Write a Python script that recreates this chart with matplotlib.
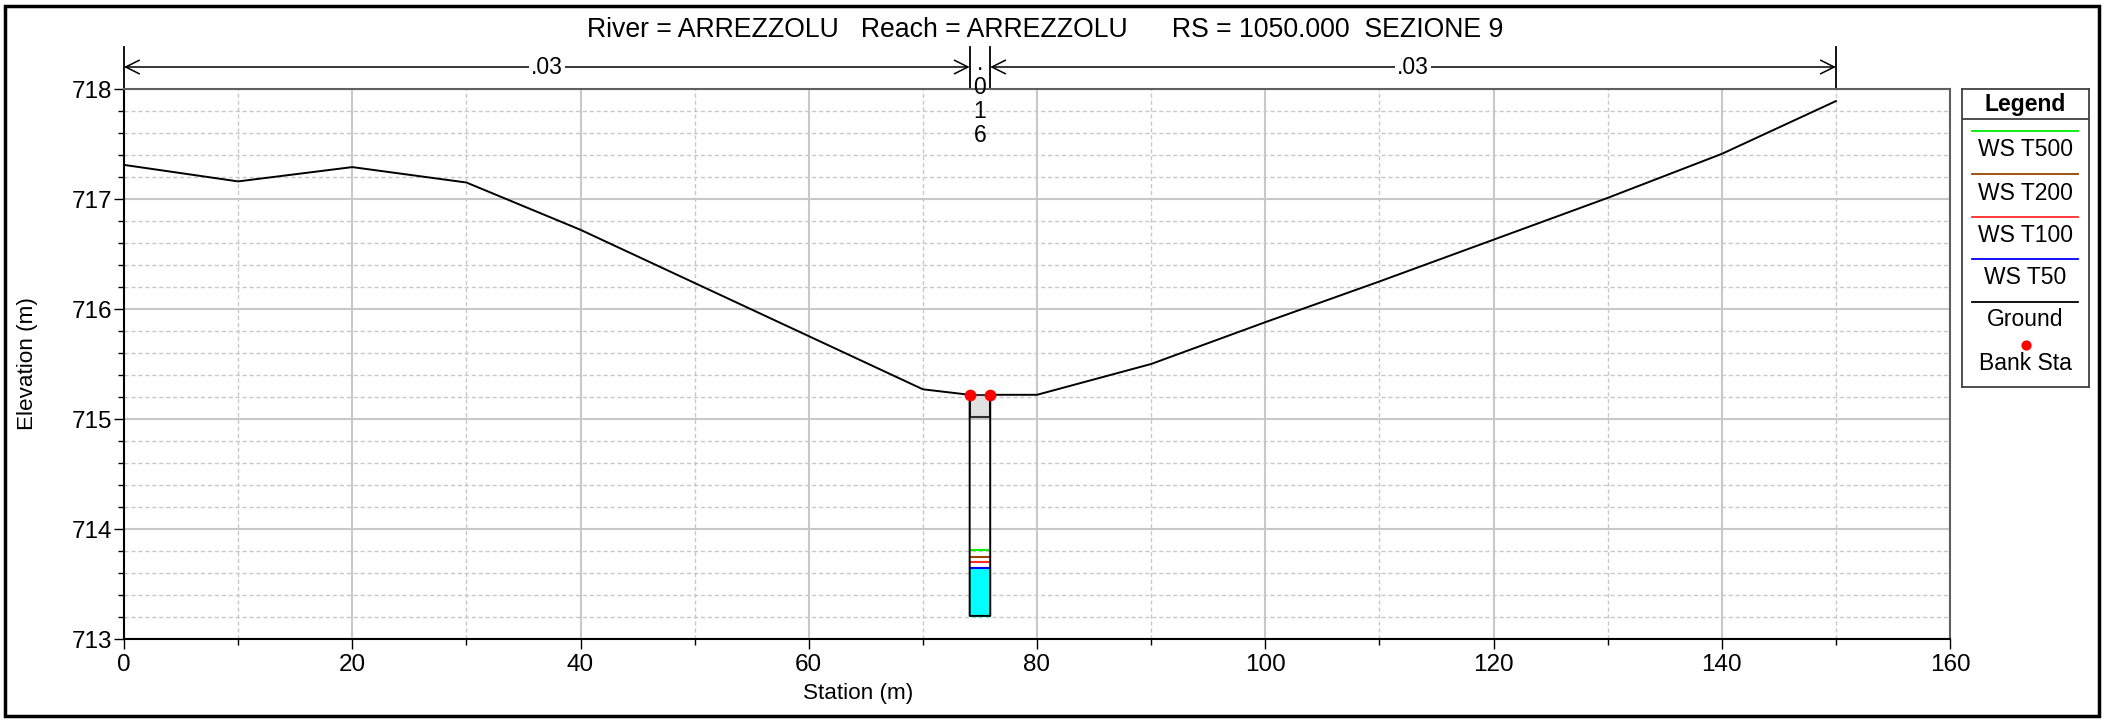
import matplotlib
matplotlib.use('Agg')
import matplotlib.pyplot as plt
import matplotlib.transforms as mtransforms
from matplotlib.patches import Rectangle
from matplotlib.ticker import MultipleLocator

plt.rcParams['font.family'] = ['Liberation Sans', 'DejaVu Sans']

# ------------------------------- Data ------------------------------- #
# ground profile (station m, elevation m)
station = [0, 10, 20, 30, 40, 70, 74.1, 74.1, 75.9, 75.9, 80, 90, 100, 110, 120, 130, 140, 150]
elevation = [717.31, 717.16, 717.29, 717.15, 716.72, 715.27, 715.22, 713.21, 713.21, 715.22,
             715.22, 715.50, 715.88, 716.25, 716.63, 717.01, 717.41, 717.89]

bank_sta = [74.1, 75.9]
bank_elev = [715.22, 715.22]
lid_low = 715.02
channel_bottom = 713.21

ws_names = ['WS T500', 'WS T200', 'WS T100', 'WS T50']
ws_elev = [713.81, 713.745, 713.70, 713.65]
ws_colors = ['#00ee00', '#994400', '#ff2a2a', '#0000ff']

n_breaks = [0, 74.1, 75.9, 150]
n_values = ['.03', '.016', '.03']

title = 'River = ARREZZOLU   Reach = ARREZZOLU      RS = 1050.000  SEZIONE 9'

# ------------------------------- Plot ------------------------------- #
W, H = 2112, 720
fig = plt.figure(figsize=(W / 100, H / 100), dpi=100)
ax = fig.add_axes([124 / W, 81 / H, 1826 / W, 550 / H])

ax.set_xlim(0, 160)
ax.set_ylim(713, 718)
ax.xaxis.set_major_locator(MultipleLocator(20))
ax.xaxis.set_minor_locator(MultipleLocator(10))
ax.yaxis.set_major_locator(MultipleLocator(1))
ax.yaxis.set_minor_locator(MultipleLocator(0.2))
ax.grid(which='major', color='#c8c8c8', lw=1.5, ls='-')
ax.grid(which='minor', color='#c8c8c8', lw=1.0, ls=(0, (3, 2)))
ax.set_axisbelow(True)
ax.tick_params(which='major', direction='out', length=7.5, width=1, labelsize=17.5, colors='black')
ax.tick_params(which='minor', direction='out', length=4, width=1)
ax.tick_params(axis='y', pad=1)
ax.tick_params(axis='x', pad=3)
for s in ['left', 'bottom']:
    ax.spines[s].set_color('black')
    ax.spines[s].set_linewidth(1.5)
for s in ['top', 'right']:
    ax.spines[s].set_color('#606060')
    ax.spines[s].set_linewidth(1.5)

# water in the slot
ax.fill_between(bank_sta, channel_bottom, min(ws_elev), color='#00ffff', zorder=2)
# lid
ax.add_patch(Rectangle((bank_sta[0], lid_low), bank_sta[1] - bank_sta[0], bank_elev[0] - lid_low,
                       facecolor='#e0e0e0', edgecolor='#303030', lw=1.5, zorder=2))
for name, e, c in zip(ws_names, ws_elev, ws_colors):
    ax.plot(bank_sta, [e, e], color=c, lw=1.5, zorder=3)

ax.plot(station, elevation, color='black', lw=1.4, zorder=4)
ax.scatter(bank_sta, bank_elev, s=55, color='red', zorder=5)

# Manning's n bar above the plot
trans = mtransforms.blended_transform_factory(ax.transData, ax.transAxes)
for s in n_breaks:
    ax.plot([s, s], [1.0, 1.0764], transform=trans, color='black', lw=1.3, clip_on=False)
ya = 1.04
for i, n in enumerate(n_values):
    x0, x1 = n_breaks[i], n_breaks[i + 1]
    xm = (x0 + x1) / 2
    if x1 - x0 > 10:
        ax.annotate('', xy=(x1, ya), xytext=(x0, ya), xycoords=trans, textcoords=trans,
                    arrowprops=dict(arrowstyle='<->,head_length=0.7,head_width=0.35', color='black',
                                    lw=1.1, shrinkA=0, shrinkB=0, mutation_scale=14))
        ax.text(xm, ya, n, transform=trans, ha='center', va='center', fontsize=16.5,
                bbox=dict(facecolor='white', edgecolor='none', pad=1.5))
    else:
        ax.text(xm, 0.9036, '\n'.join(n), transform=trans, ha='center', va='baseline',
                fontsize=16.5, linespacing=1.06, clip_on=False)

# titles and labels
fig.text(1045 / W, 1 - 30 / H, title, ha='center', va='center', fontsize=19.2)
fig.text(28 / W, 1 - 364 / H, 'Elevation (m)', rotation=90, ha='center', va='center', fontsize=16.2)
fig.text(858 / W, 1 - 693 / H, 'Station (m)', ha='center', va='center', fontsize=16.2)

# outer frame
fig.patches.append(Rectangle((5 / W, 4 / H), 2094 / W, 710 / H, transform=fig.transFigure,
                             fill=False, edgecolor='black', lw=2.5))

# legend box
lax = fig.add_axes([1962 / W, 1 - 387 / H, 127 / W, 298 / H])
lax.set_xlim(0, 127)
lax.set_ylim(298, 0)
lax.set_xticks([])
lax.set_yticks([])
for s in lax.spines.values():
    s.set_color('#404040')
    s.set_linewidth(1.3)
lax.text(63.5, 15, 'Legend', ha='center', va='center', fontsize=16.5, fontweight='bold')
lax.axhline(30, color='#404040', lw=1.3)
line_y = [42, 85, 128, 170, 213]
text_y = [61, 104, 146, 189, 231]
for name, c, ly, ty in zip(ws_names + ['Ground'], ws_colors + ['black'], line_y, text_y):
    lax.plot([10, 116], [ly, ly], color=c, lw=1.3)
    lax.text(63.5, ty, name, ha='center', va='center', fontsize=16.5)
lax.scatter([63.5], [256], s=40, color='red')
lax.text(63.5, 274, 'Bank Sta', ha='center', va='center', fontsize=16.5)

fig.savefig('out.png', dpi=100)
